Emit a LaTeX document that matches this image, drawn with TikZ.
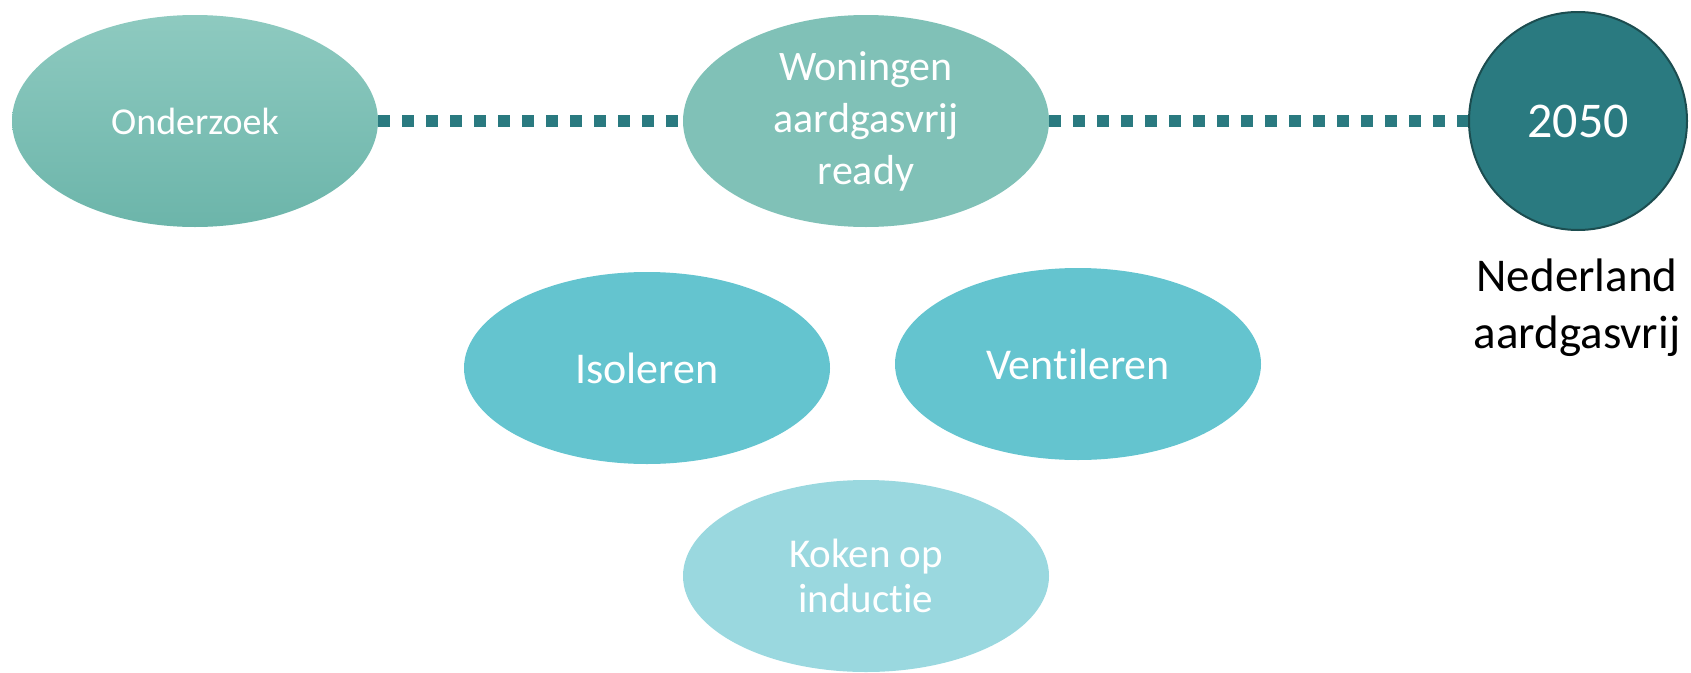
\documentclass[tikz,border=0pt]{standalone}
\usepackage{fontspec}
\setmainfont{Carlito}[Ligatures=NoCommon]
\usetikzlibrary{shapes.geometric}
\definecolor{teal1}{HTML}{2A7A80}
\definecolor{tealedge}{HTML}{1C4D50}
\definecolor{gtop}{HTML}{8ECAC0}
\definecolor{gbot}{HTML}{6CB5AA}
\definecolor{wonc}{HTML}{80C1B7}
\definecolor{midc}{HTML}{64C4CF}
\definecolor{lightc}{HTML}{9AD8DF}
\tikzset{
  oval/.style={ellipse, inner sep=0pt, minimum width=366pt, text=white, align=center},
  bigoval/.style={oval, minimum height=212pt},
  smalloval/.style={oval, minimum height=192pt},
  dotline/.style={draw=teal1, line width=12pt, dash pattern=on 12pt off 12pt},
}
\begin{document}
\begin{tikzpicture}[x=1pt,y=-1pt]
\useasboundingbox (0,0) rectangle (1691,672);
\node[bigoval, top color=gtop, bottom color=gbot, font=\fontsize{38}{46}\selectfont] (onder) at (195,121) {Onderzoek};
\node[bigoval, fill=wonc, font=\fontsize{42}{52}\selectfont] (won) at (866,121) {Woningen\\aardgasvrij\\ready};
\node[circle, fill=teal1, draw=tealedge, line width=2pt, minimum size=218pt, inner sep=0pt, text=white, font=\fontsize{50}{60}\selectfont] (y2050) at (1578,121) {2050};
\node[align=center, font=\fontsize{47}{57}\selectfont, text=black] (lbl) at (1577,308) {Nederland\\aardgasvrij};
\node[smalloval, fill=midc, font=\fontsize{44}{53}\selectfont] (iso) at (647,368) {Isoleren};
\node[smalloval, fill=midc, font=\fontsize{44}{53}\selectfont] (vent) at (1078,364) {Ventileren};
\node[smalloval, fill=lightc, font=\fontsize{41}{45}\selectfont] (koken) at (866,576) {Koken op\\inductie};
\draw[dotline] (onder.east) -- (won.west);
\draw[dotline] (won.east) -- (y2050.west);
\end{tikzpicture}
\end{document}
